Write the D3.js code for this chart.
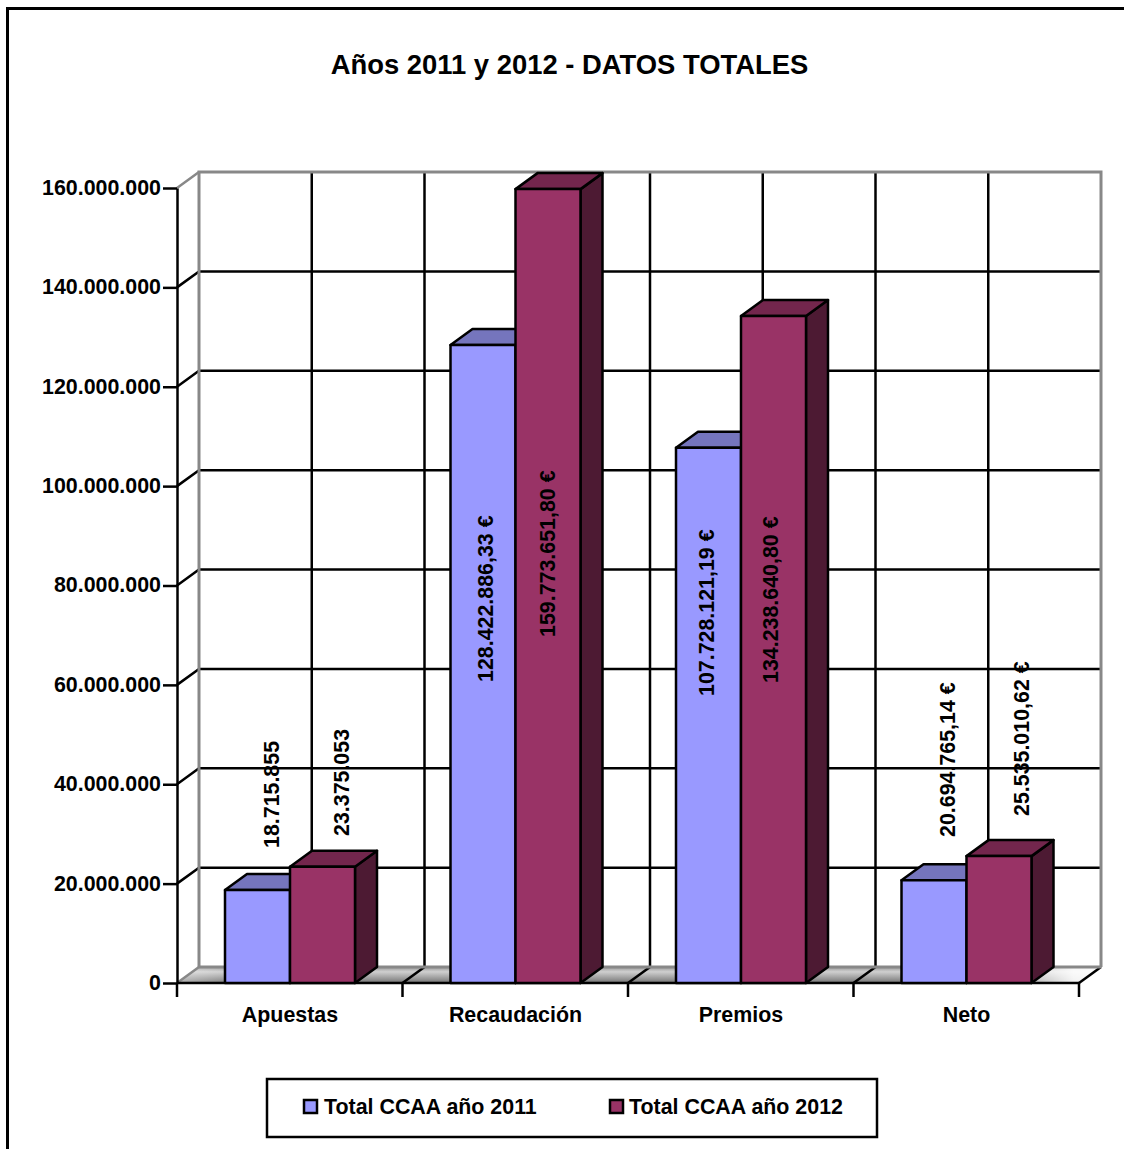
<!DOCTYPE html>
<html><head><meta charset="utf-8">
<script src="https://cdn.jsdelivr.net/npm/d3@7"></script>
<style>html,body{margin:0;padding:0;background:#fff}svg{display:block}text{font-family:"Liberation Sans",Arial,sans-serif;font-weight:bold;fill:#000}</style>
</head><body><svg id="c" width="1124" height="1149"></svg>
<script>
const titleText = "Años 2011 y 2012 - DATOS TOTALES";
const categories = ["Apuestas","Recaudación","Premios","Neto"];
const seriesNames = ["Total CCAA año 2011","Total CCAA año 2012"];
const values2011 = [18715855,128422886.33,107728121.19,20694765.14];
const values2012 = [23375053,159773651.80,134238640.80,25535010.62];
const labels2011 = ["18.715.855","128.422.886,33 €","107.728.121,19 €","20.694.765,14 €"];
const labels2012 = ["23.375.053","159.773.651,80 €","134.238.640,80 €","25.535.010,62 €"];
const yTicks = [0,20e6,40e6,60e6,80e6,100e6,120e6,140e6,160e6];

// layout
const W=1124,H=1149,dx=22,dy=-16;
const labelBottom2011=[848,682,696,837], labelBottom2012=[836,637,683,816];
const labelDx2011=[14,2.5,-2,13], labelDx2012=[18.5,-0.5,-3,22];
const fills=[{front:"#9999ff",top:"#7575bd",side:"#4a4a80"},{front:"#993366",top:"#73264d",side:"#4d1a33"}];
const lw=2.5;

const svg=d3.select("#c");
const x=d3.scaleBand().domain(categories).range([177,1079]);
const s=d3.scaleBand().domain([0,1]).range([48,178]);
const y=d3.scaleLinear().domain([0,160e6]).range([983,188]);
const fmt=d3.formatLocale({decimal:",",thousands:".",grouping:[3],currency:["","€"]}).format(",.0f");

// frame
svg.append("path").attr("d",`M7.5,${H}V8.5H${W}`).attr("fill","none").attr("stroke","#000").attr("stroke-width",3);
svg.append("text").attr("x",569.5).attr("y",74).attr("text-anchor","middle").attr("font-size",27.4).text(titleText);

// floor
const defs=svg.append("defs");
const g1=defs.append("linearGradient").attr("id","fl").attr("x1",0).attr("y1",0).attr("x2",0).attr("y2",1);
[[0,"#999999"],[0.3,"#cfcfcf"],[1,"#757575"]].forEach(d=>g1.append("stop").attr("offset",d[0]).attr("stop-color",d[1]));
const g2=defs.append("linearGradient").attr("id","fw").attr("x1",0).attr("y1",0).attr("x2",1).attr("y2",0);
[[0,0.4],[0.06,0],[0.88,0],[0.97,0.9],[1,0.95]].forEach(d=>g2.append("stop").attr("offset",d[0]).attr("stop-color","#fff").attr("stop-opacity",d[1]));
const y0=y(0), x0=x.range()[0], x1=x.range()[1];
const floor=`M${x0},${y0}L${x0+dx},${y0+dy}H${x1+dx}L${x1},${y0}Z`;
svg.append("path").attr("d",floor).attr("fill","url(#fl)");
svg.append("path").attr("d",floor).attr("fill","url(#fw)");

// back wall grid
const grid=svg.append("g").attr("fill","none").attr("stroke-width",lw);
yTicks.slice(1,-1).forEach(t=>{
  grid.append("path").attr("stroke","#000").attr("d",`M${x0},${y(t)}l${dx},${dy}H${x1+dx}`);
});
const vLines=[];
categories.forEach((c,i)=>{vLines.push(x(c)+x.bandwidth()/2); if(i>0)vLines.push(x(c));});
vLines.forEach(v=>grid.append("line").attr("stroke","#000").attr("x1",v+dx).attr("x2",v+dx).attr("y1",y(160e6)+dy).attr("y2",y0+dy));
// wall outline
const wall=svg.append("g").attr("fill","none").attr("stroke","#888");
wall.append("path").attr("stroke-width",3).attr("d",`M${x0+dx},${y0+dy}V${y(160e6)+dy}H${x1+dx}V${y0+dy}`);
wall.append("path").attr("stroke-width",3).attr("d",`M${x0+dx},${y0+dy}H${x1+dx}`);
wall.append("path").attr("stroke-width",lw).attr("d",`M${x0},${y(160e6)}l${dx},${dy}M${x0},${y0}l${dx},${dy}`);
// floor diagonals
x.domain().slice(1).concat(["__end"]).forEach((c,i)=>{
  const px=i<3?x(c):x1;
  grid.append("line").attr("stroke","#000").attr("x1",px).attr("y1",y0).attr("x2",px+dx).attr("y2",y0+dy);
});

// axes
const ax=svg.append("g").attr("transform",`translate(${x0},0)`)
  .call(d3.axisLeft(y).tickValues(yTicks).tickFormat(fmt).tickSize(14).tickSizeOuter(0).tickPadding(2));
ax.select(".domain").attr("stroke","#000").attr("stroke-width",lw);
ax.selectAll(".tick line").attr("stroke","#000").attr("stroke-width",lw);
ax.selectAll(".tick text").attr("font-size",21.4).attr("font-family",'"Liberation Sans"').attr("dy",".3em");
const xTicks=svg.append("g").attr("stroke","#000").attr("stroke-width",lw);
svg.append("line").attr("x1",x0).attr("x2",x1).attr("y1",y0).attr("y2",y0).attr("stroke","#000").attr("stroke-width",lw);
categories.concat(["__end"]).forEach((c,i)=>{
  const px=i<4?x(c):x1;
  xTicks.append("line").attr("x1",px).attr("x2",px).attr("y1",y0).attr("y2",y0+14);
});
svg.append("g").selectAll("text").data(categories).join("text")
  .attr("x",d=>x(d)+s.step()+48).attr("y",1022).attr("text-anchor","middle").attr("font-size",21.4).text(d=>d);

// bars
const bars=svg.append("g").attr("stroke","#000").attr("stroke-width",lw).attr("stroke-linejoin","round");
categories.forEach((c,i)=>{
  [values2011,values2012].forEach((vals,k)=>{
    const bx=x(c)+s(k), w=s.bandwidth(), t=y(vals[i]), col=fills[k];
    bars.append("path").attr("fill",col.side).attr("d",`M${bx+w},${t}l${dx},${dy}V${y0+dy}L${bx+w},${y0}Z`);
    bars.append("path").attr("fill",col.top).attr("d",`M${bx},${t}l${dx},${dy}h${w}l${-dx},${-dy}Z`);
    bars.append("rect").attr("fill",col.front).attr("x",bx).attr("y",t).attr("width",w).attr("height",y0-t);
  });
});

// value labels
categories.forEach((c,i)=>{
  [[labels2011,labelBottom2011,labelDx2011],[labels2012,labelBottom2012,labelDx2012]].forEach((L,k)=>{
    const lx=x(c)+s(k)+s.bandwidth()/2+L[2][i], ly=L[1][i];
    svg.append("text").attr("transform",`translate(${lx},${ly}) rotate(-90)`).attr("dy",".35em").attr("font-size",21.4).text(L[0][i]);
  });
});

// legend
svg.append("rect").attr("x",267).attr("y",1079).attr("width",610).attr("height",58).attr("fill","#fff").attr("stroke","#000").attr("stroke-width",lw);
const legendX=[304,610], legendTextX=[324,629];
seriesNames.forEach((n,k)=>{
  svg.append("rect").attr("x",legendX[k]).attr("y",1100).attr("width",13).attr("height",13).attr("fill",fills[k].front).attr("stroke","#000").attr("stroke-width",lw);
  svg.append("text").attr("x",legendTextX[k]).attr("y",1114).attr("font-size",21.4).text(n);
});
</script></body></html>
